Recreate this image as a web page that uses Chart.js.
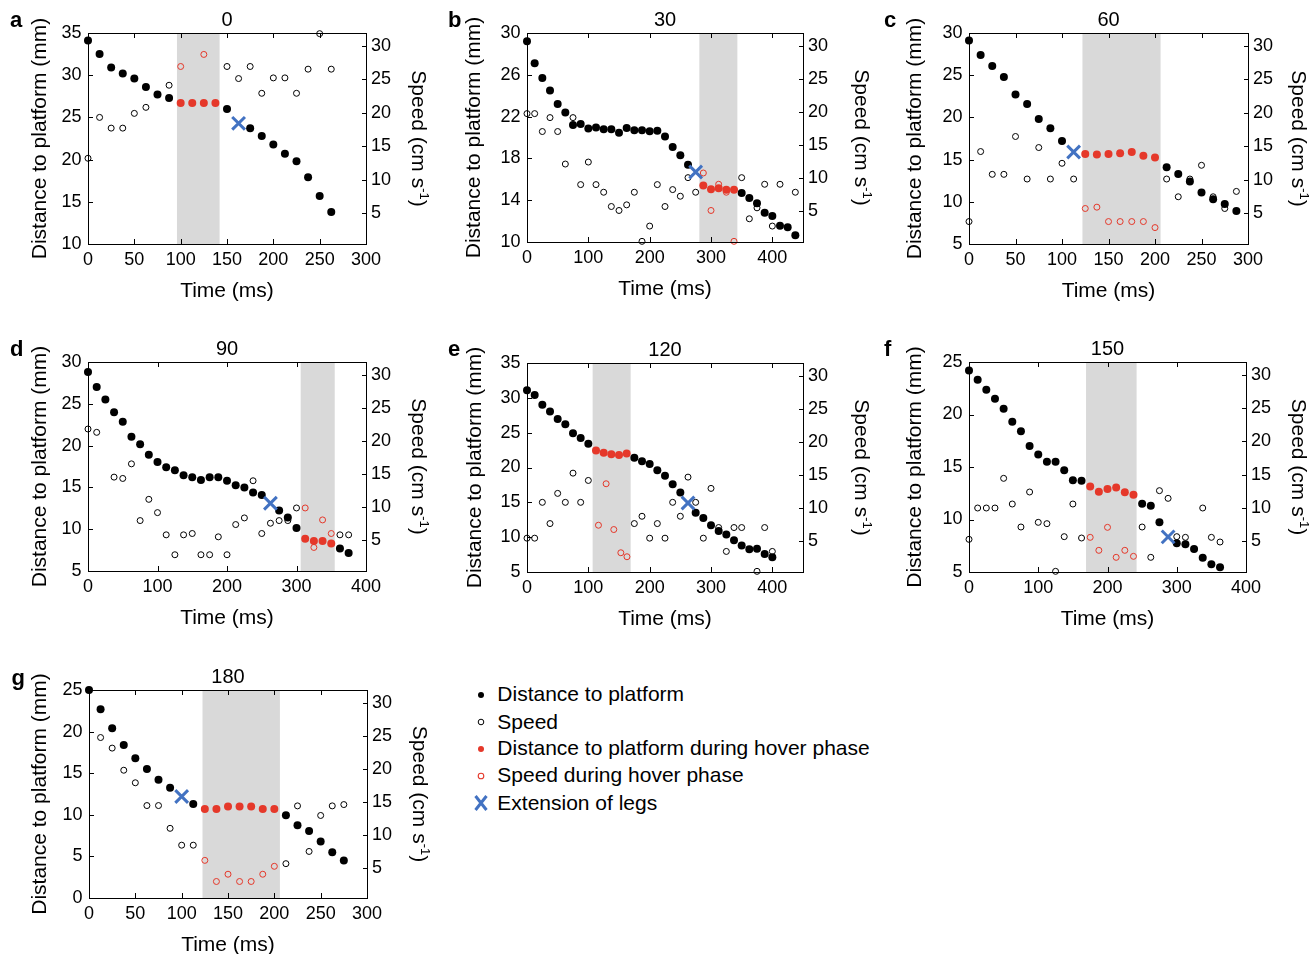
<!DOCTYPE html>
<html>
<head>
<meta charset="utf-8">
<title>Landing approach: distance and speed</title>
<script src="https://cdn.jsdelivr.net/npm/chart.js@4.4.1/dist/chart.umd.min.js"></script>
<style>
  html, body { margin: 0; padding: 0; background: #fff; }
  body { width: 1316px; height: 954px; position: relative; overflow: hidden;
         font-family: "Liberation Sans", Arial, Helvetica, sans-serif; }
  canvas.panel { position: absolute; }
  .lg-row { position: absolute; font-size: 21px; line-height: 24px; color: #000; white-space: nowrap; }
  .lg-mark { position: absolute; }
</style>
</head>
<body>
<script>
// ---------- shared axis values ----------
const speedTicks = [5, 10, 15, 20, 25, 30];
const speedRange = [0.4, 31.9];
const panelTitles = ['0', '30', '60', '90', '120', '150', '180'];
const panelLetters = ['a', 'b', 'c', 'd', 'e', 'f', 'g'];
const legendLabels = ['Distance to platform', 'Speed', 'Distance to platform during hover phase',
                      'Speed during hover phase', 'Extension of legs'];

// ---------- panel a (0) ----------
const timeTicksA = [0, 50, 100, 150, 200, 250, 300];
const distTicksA = [10, 15, 20, 25, 30, 35];
const distA = [[0,34.1],[12.5,32.5],[25,30.9],[37.5,30.2],[50,29.6],[62.5,28.6],[75,27.7],[87.5,27.3],
  [150,26.0],[175,23.7],[187.5,22.8],[200,21.8],[212.5,20.7],[225,19.8],[237.5,17.9],[250,15.7],[262.5,13.8]];
const hoverDistA = [[100,26.7],[112.5,26.7],[125,26.7],[137.5,26.7]];
const speedA = [[0,13.2],[12.5,19.3],[25,17.7],[37.5,17.7],[50,19.9],[62.5,20.8],[87.5,24.1],
  [150,26.9],[162.5,25.1],[175,26.9],[187.5,22.9],[200,25.2],[212.5,25.2],[225,22.9],[237.5,26.5],[250,31.8],[262.5,26.5]];
const hoverSpeedA = [[100,26.9],[125,28.7]];
const legsA = [[162.5,24.3]];
const hoverSpanA = [96, 142];

// ---------- panel b (30) ----------
const timeTicksB = [0, 100, 200, 300, 400];
const distTicksB = [10, 14, 18, 22, 26, 30];
const distB = [[0,29.2],[12.5,27.1],[25,25.7],[37.5,24.5],[50,23.2],[62.5,22.4],[75,21.2],[87.5,21.3],
  [100,20.85],[112.5,20.95],[125,20.8],[137.5,20.8],[150,20.45],[162.5,20.9],[175,20.7],[187.5,20.7],
  [200,20.6],[212.5,20.65],[225,20.1],[237.5,19.1],[250,18.3],[262.5,17.4],
  [350,14.7],[362.5,14.2],[375,13.7],[387.5,12.8],[400,12.5],[412.5,11.55],[425,11.4],[437.5,10.65]];
const hoverDistB = [[287.5,15.4],[300,15.05],[312.5,15.15],[325,15.0],[337.5,15.0]];
const speedB = [[0,19.75],[12.5,19.75],[25,17.05],[37.5,19.15],[50,17.05],[62.5,12.15],[75,19.15],[87.5,9.05],
  [100,12.45],[112.5,9.05],[125,7.9],[137.5,5.75],[150,5.15],[162.5,6.0],[175,7.9],[187.5,0.5],[200,2.8],
  [212.5,9.05],[225,5.75],[237.5,8.3],[250,7.3],[262.5,10.1],[275,7.9],
  [350,10.1],[362.5,3.9],[375,5.55],[387.5,9.1],[400,2.8],[412.5,9.1],[437.5,7.9]];
const hoverSpeedB = [[287.5,10.8],[300,5.15],[312.5,9.1],[325,7.9],[337.5,0.5]];
const legsB = [[275,16.7]];
const hoverSpanB = [281, 343];

// ---------- panel c (60) ----------
const timeTicksC = [0, 50, 100, 150, 200, 250, 300];
const distTicksC = [5, 10, 15, 20, 25, 30];
const distC = [[0,29.1],[12.5,27.4],[25,26.1],[37.5,24.8],[50,22.7],[62.5,21.6],[75,19.8],[87.5,18.7],[100,17.2],
  [212.5,14.1],[225,13.3],[237.5,12.4],[250,11.1],[262.5,10.3],[275,9.75],[287.5,8.9]];
const hoverDistC = [[125,15.65],[137.5,15.6],[150,15.65],[162.5,15.75],[175,15.9],[187.5,15.45],[200,15.25]];
const speedC = [[0,3.75],[12.5,14.2],[25,10.8],[37.5,10.8],[50,16.45],[62.5,10.1],[75,14.8],[87.5,10.1],
  [100,12.45],[112.5,10.1],[212.5,10.1],[225,7.45],[237.5,10.1],[250,12.15],[262.5,7.45],[275,5.7],[287.5,8.25]];
const hoverSpeedC = [[125,5.7],[137.5,5.9],[150,3.75],[162.5,3.75],[175,3.75],[187.5,3.75],[200,2.85]];
const legsC = [[112.5,15.9]];
const hoverSpanC = [122, 206];

// ---------- panel d (90) ----------
const timeTicksD = [0, 100, 200, 300, 400];
const distTicksD = [5, 10, 15, 20, 25, 30];
const distD = [[0,28.8],[12.5,27.0],[25,25.5],[37.5,24.0],[50,22.85],[62.5,21.05],[75,20.15],[87.5,18.9],
  [100,18.05],[112.5,17.4],[125,17.05],[137.5,16.45],[150,16.2],[162.5,15.9],[175,16.2],[187.5,16.2],
  [200,15.8],[212.5,15.25],[225,15.0],[237.5,14.4],[250,14.1],[275,12.25],[287.5,11.4],[300,10.15],
  [362.5,7.7],[375,7.15]];
const hoverDistD = [[312.5,8.85],[325,8.6],[337.5,8.6],[350,8.3]];
const speedD = [[0,21.8],[12.5,21.3],[37.5,14.55],[50,14.35],[62.5,16.55],[75,8.0],[87.5,11.2],[100,9.2],
  [112.5,5.85],[125,2.85],[137.5,5.85],[150,6.05],[162.5,2.85],[175,2.85],[187.5,5.55],[200,2.85],
  [212.5,7.4],[225,8.4],[237.5,14.0],[250,6.05],[262.5,7.6],[275,8.0],[287.5,8.0],[300,9.9],
  [362.5,5.85],[375,5.85]];
const hoverSpeedD = [[312.5,9.9],[325,3.95],[337.5,8.1],[350,6.05]];
const legsD = [[262.5,13.1]];
const hoverSpanD = [306, 355];

// ---------- panel e (120) ----------
const timeTicksE = [0, 100, 200, 300, 400];
const distTicksE = [5, 10, 15, 20, 25, 30, 35];
const distE = [[0,31.1],[12.5,30.4],[25,29.0],[37.5,28.05],[50,26.95],[62.5,26.2],[75,24.9],[87.5,24.25],[100,23.4],
  [175,21.4],[187.5,20.9],[200,20.5],[212.5,19.6],[225,18.8],[237.5,17.6],[250,16.4],[275,13.5],[287.5,12.75],
  [300,11.7],[312.5,10.9],[325,10.4],[337.5,9.55],[350,8.8],[362.5,8.25],[375,8.35],[387.5,7.6],[400,7.1]];
const hoverDistE = [[112.5,22.45],[125,22.1],[137.5,21.9],[150,21.8],[162.5,22.0]];
const speedE = [[0,5.5],[12.5,5.5],[25,10.9],[37.5,7.7],[50,12.25],[62.5,10.9],[75,15.3],[87.5,10.9],[100,14.2],
  [175,7.7],[187.5,8.8],[200,5.5],[212.5,7.7],[225,5.5],[237.5,10.9],[250,8.8],[262.5,14.7],[275,10.9],
  [287.5,5.5],[300,13.0],[312.5,7.1],[325,3.5],[337.5,7.1],[350,7.1],[375,0.5],[387.5,7.1],[400,3.5]];
const hoverSpeedE = [[116.5,7.45],[129,13.7],[141.5,6.8],[153,3.3],[163,2.7]];
const legsE = [[262.5,14.9]];
const hoverSpanE = [107, 169];

// ---------- panel f (150) ----------
const timeTicksF = [0, 100, 200, 300, 400];
const distTicksF = [5, 10, 15, 20, 25];
const distF = [[0,24.2],[12.5,23.3],[25,22.35],[37.5,21.5],[50,20.55],[62.5,19.3],[75,18.4],[87.5,17.0],
  [100,16.2],[112.5,15.5],[125,15.5],[137.5,14.7],[150,13.75],[162.5,13.7],
  [250,11.5],[262.5,11.3],[275,9.75],[300,7.75],[312.5,7.65],[325,7.2],[337.5,6.35],[350,5.75],[362.5,5.45]];
const hoverDistF = [[175,13.15],[187.5,12.65],[200,12.9],[212.5,13.05],[225,12.6],[237.5,12.35]];
const speedF = [[0,5.3],[12.5,10.0],[25,10.0],[37.5,10.0],[50,14.45],[62.5,10.6],[75,7.15],[87.5,12.4],
  [100,7.85],[112.5,7.65],[125,0.5],[137.5,5.7],[150,10.6],[162.5,5.5],
  [250,7.15],[262.5,2.6],[275,12.6],[287.5,11.45],[300,5.7],[312.5,5.6],[337.5,10.0],[350,5.6],[362.5,4.9]];
const hoverSpeedF = [[175,5.6],[187.5,3.65],[200,7.1],[212.5,2.6],[225,3.65],[237.5,2.75]];
const legsF = [[287.5,8.35]];
const hoverSpanF = [169, 242];

// ---------- panel g (180) ----------
const timeTicksG = [0, 50, 100, 150, 200, 250, 300];
const distTicksG = [0, 5, 10, 15, 20, 25];
const distG = [[0,25.0],[12.5,22.7],[25,20.4],[37.5,18.4],[50,16.8],[62.5,15.5],[75,14.2],[87.5,13.25],[112.5,11.3],
  [212.5,9.95],[225,8.75],[237.5,8.05],[250,6.8],[262.5,5.5],[275,4.5]];
const hoverDistG = [[125,10.7],[137.5,10.7],[150,11.0],[162.5,11.0],[175,11.0],[187.5,10.7],[200,10.7]];
const speedG = [[12.5,24.7],[25,23.1],[37.5,19.75],[50,17.85],[62.5,14.4],[75,14.4],[87.5,10.95],[100,8.4],[112.5,8.4],
  [212.5,5.6],[225,14.35],[237.5,7.45],[250,12.9],[262.5,14.35],[275,14.55]];
const hoverSpeedG = [[125,6.1],[137.5,2.9],[150,4.0],[162.5,2.9],[175,2.9],[187.5,4.0],[200,5.2]];
const legsG = [[100,12.2]];
const hoverSpanG = [122.5, 206];

// ---------- styling ----------
const FONT = '"Liberation Sans", Arial, Helvetica, sans-serif';
const BLACK = '#000000';
const RED = '#e5382a';
const BLUE = '#4272c2';
const SHADE = '#d9d9d9';
const NONE = 'rgba(0,0,0,0)';

// plot-area boxes [left, top, right, bottom] and label offsets
const layoutSpec = [
  { box: [88, 33, 366, 244],  xMax: 300, lt: 48,   rt: 52, letter: [10, 26.5] },
  { box: [527, 33, 803, 242], xMax: 450, lt: 52.5, rt: 58, letter: [448, 26.5] },
  { box: [969, 33, 1248, 244], xMax: 300, lt: 53.5, rt: 50, letter: [884, 26.5] },
  { box: [88, 362, 366, 571], xMax: 400, lt: 48,   rt: 52, letter: [10, 356] },
  { box: [527, 363, 803, 572], xMax: 450, lt: 52,  rt: 58, letter: [448, 356] },
  { box: [969, 362, 1246, 572], xMax: 400, lt: 53.5, rt: 52, letter: [884, 356] },
  { box: [89, 690, 367, 898], xMax: 300, lt: 49,   rt: 52, letter: [11.5, 685] }
];

const panelData = [
  { time: timeTicksA, distTicks: distTicksA, dist: distA, hDist: hoverDistA, speed: speedA, hSpeed: hoverSpeedA, legs: legsA, span: hoverSpanA },
  { time: timeTicksB, distTicks: distTicksB, dist: distB, hDist: hoverDistB, speed: speedB, hSpeed: hoverSpeedB, legs: legsB, span: hoverSpanB },
  { time: timeTicksC, distTicks: distTicksC, dist: distC, hDist: hoverDistC, speed: speedC, hSpeed: hoverSpeedC, legs: legsC, span: hoverSpanC },
  { time: timeTicksD, distTicks: distTicksD, dist: distD, hDist: hoverDistD, speed: speedD, hSpeed: hoverSpeedD, legs: legsD, span: hoverSpanD },
  { time: timeTicksE, distTicks: distTicksE, dist: distE, hDist: hoverDistE, speed: speedE, hSpeed: hoverSpeedE, legs: legsE, span: hoverSpanE },
  { time: timeTicksF, distTicks: distTicksF, dist: distF, hDist: hoverDistF, speed: speedF, hSpeed: hoverSpeedF, legs: legsF, span: hoverSpanF },
  { time: timeTicksG, distTicks: distTicksG, dist: distG, hDist: hoverDistG, speed: speedG, hSpeed: hoverSpeedG, legs: legsG, span: hoverSpanG }
];

const LP = 90, RP = 80, TP = 40, BP = 70;   // room around each plot area
const TICK = 5;                              // inward tick length

const toPoints = arr => arr.map(([x, y]) => ({ x, y }));

function makeDecor(i, spec, d, canvasLeft, canvasTop) {
  return {
    id: 'decor' + i,
    beforeDatasetsDraw(chart) {
      const { ctx, chartArea: a, scales } = chart;
      const x0 = scales.x.getPixelForValue(d.span[0]);
      const x1 = scales.x.getPixelForValue(d.span[1]);
      ctx.save();
      ctx.fillStyle = SHADE;
      ctx.fillRect(x0, a.top, x1 - x0, a.bottom - a.top);
      ctx.restore();
    },
    afterDatasetsDraw(chart) {
      const { ctx, chartArea: a, scales } = chart;
      ctx.save();
      ctx.strokeStyle = '#000';
      ctx.lineWidth = 1;
      // frame
      ctx.strokeRect(a.left + 0.5, a.top + 0.5, a.right - a.left, a.bottom - a.top);
      ctx.beginPath();
      // inward ticks: time on bottom and top edges
      scales.x.ticks.forEach(t => {
        const px = Math.round(scales.x.getPixelForValue(t.value)) + 0.5;
        ctx.moveTo(px, a.bottom); ctx.lineTo(px, a.bottom - TICK);
        ctx.moveTo(px, a.top); ctx.lineTo(px, a.top + TICK);
      });
      // distance ticks on the left edge
      scales.y.ticks.forEach(t => {
        const py = Math.round(scales.y.getPixelForValue(t.value)) + 0.5;
        ctx.moveTo(a.left, py); ctx.lineTo(a.left + TICK, py);
      });
      // speed ticks on the right edge
      scales.y2.ticks.forEach(t => {
        const py = Math.round(scales.y2.getPixelForValue(t.value)) + 0.5;
        ctx.moveTo(a.right + 1, py); ctx.lineTo(a.right + 1 - TICK, py);
      });
      ctx.stroke();
      ctx.restore();
    },
    afterDraw(chart) {
      const { ctx, chartArea: a } = chart;
      ctx.save();
      ctx.fillStyle = '#000';
      // panel heading (launch angle)
      ctx.font = '20px ' + FONT;
      ctx.textAlign = 'center';
      ctx.textBaseline = 'middle';
      ctx.fillText(panelTitles[i], (a.left + a.right) / 2, a.top - 12.5);
      // panel letter
      ctx.font = 'bold 22px ' + FONT;
      ctx.textAlign = 'left';
      ctx.textBaseline = 'alphabetic';
      ctx.fillText(panelLetters[i], spec.letter[0] - canvasLeft, spec.letter[1] - canvasTop);
      // right axis title with superscript exponent
      ctx.translate(a.right + spec.rt, (a.top + a.bottom) / 2);
      ctx.rotate(Math.PI / 2);
      ctx.textBaseline = 'middle';
      const big = '21px ' + FONT, small = '13px ' + FONT;
      const s1 = 'Speed (cm s', s2 = '-1', s3 = ')';
      ctx.font = big; const w1 = ctx.measureText(s1).width; const w3 = ctx.measureText(s3).width;
      ctx.font = small; const w2 = ctx.measureText(s2).width;
      let x = -(w1 + w2 + w3) / 2;
      ctx.font = big; ctx.fillText(s1, x, 0); x += w1;
      ctx.font = small; ctx.fillText(s2, x, -5.5); x += w2;
      ctx.font = big; ctx.fillText(s3, x, 0);
      ctx.restore();
    }
  };
}

layoutSpec.forEach((spec, i) => {
  const d = panelData[i];
  const [L, T, R, B] = spec.box;
  const w = R - L + LP + RP, h = B - T + TP + BP;
  const cv = document.createElement('canvas');
  cv.className = 'panel';
  cv.width = w; cv.height = h;
  cv.style.width = w + 'px'; cv.style.height = h + 'px';
  cv.style.left = (L - LP) + 'px'; cv.style.top = (T - TP) + 'px';
  document.body.appendChild(cv);

  const tickFont = { family: FONT, size: 18 };
  const titleFont = { family: FONT, size: 21, lineHeight: 1.2 };

  new Chart(cv, {
    type: 'scatter',
    data: {
      datasets: [
        { label: legendLabels[4], data: toPoints(d.legs), yAxisID: 'y', clip: false,
          pointStyle: 'crossRot', pointRadius: 9, pointBorderWidth: 3, pointBorderColor: BLUE, pointBackgroundColor: BLUE },
        { label: legendLabels[3], data: toPoints(d.hSpeed), yAxisID: 'y2', clip: false,
          pointRadius: 3, pointBorderWidth: 1, pointBorderColor: RED, pointBackgroundColor: NONE },
        { label: legendLabels[1], data: toPoints(d.speed), yAxisID: 'y2', clip: false,
          pointRadius: 3, pointBorderWidth: 1, pointBorderColor: BLACK, pointBackgroundColor: NONE },
        { label: legendLabels[2], data: toPoints(d.hDist), yAxisID: 'y', clip: false,
          pointRadius: 4, pointBorderWidth: 0, pointBackgroundColor: RED },
        { label: legendLabels[0], data: toPoints(d.dist), yAxisID: 'y', clip: false,
          pointRadius: 4, pointBorderWidth: 0, pointBackgroundColor: BLACK }
      ]
    },
    options: {
      responsive: false,
      animation: false,
      devicePixelRatio: 1,
      events: [],
      layout: { padding: { top: TP, left: 0, right: 0, bottom: 0 } },
      plugins: { legend: { display: false }, tooltip: { enabled: false }, title: { display: false } },
      scales: {
        x: {
          type: 'linear', position: 'bottom', min: 0, max: spec.xMax,
          afterBuildTicks: s => { s.ticks = d.time.map(v => ({ value: v })); },
          afterFit: s => { s.height = BP; },
          grid: { display: false, drawTicks: false }, border: { display: false },
          ticks: { font: tickFont, color: '#000', padding: 5.5, maxRotation: 0, autoSkip: false },
          title: { display: true, text: 'Time (ms)', color: '#000', font: titleFont, padding: { top: 0, bottom: 10.4 } }
        },
        y: {
          type: 'linear', position: 'left',
          min: d.distTicks[0], max: d.distTicks[d.distTicks.length - 1],
          afterBuildTicks: s => { s.ticks = d.distTicks.map(v => ({ value: v })); },
          afterFit: s => { s.width = LP; },
          grid: { display: false, drawTicks: false }, border: { display: false },
          ticks: { font: tickFont, color: '#000', padding: 6.5, autoSkip: false },
          title: { display: true, text: 'Distance to platform (mm)', color: '#000', font: titleFont,
                   padding: { top: LP - spec.lt - 12.6, bottom: 0 } }
        },
        y2: {
          type: 'linear', position: 'right', min: speedRange[0], max: speedRange[1],
          afterBuildTicks: s => { s.ticks = speedTicks.map(v => ({ value: v })); },
          afterFit: s => { s.width = RP; },
          grid: { display: false, drawTicks: false }, border: { display: false },
          ticks: { font: tickFont, color: '#000', padding: 5, autoSkip: false },
          title: { display: false }
        }
      }
    },
    plugins: [makeDecor(i, spec, d, L - LP, T - TP)]
  });
});

// ---------- legend ----------
const legendRowsY = [695, 722.3, 749, 776, 803.3];
const legendMarkX = 480.7, legendTextX = 497.3;
const legendMarks = [
  '<circle cx="10" cy="10" r="3" fill="' + BLACK + '"/>',
  '<circle cx="10" cy="10" r="2.8" fill="none" stroke="' + BLACK + '" stroke-width="1"/>',
  '<circle cx="10" cy="10" r="3" fill="' + RED + '"/>',
  '<circle cx="10" cy="10" r="2.8" fill="none" stroke="' + RED + '" stroke-width="1.1"/>',
  '<path d="M4.5 3 L15.5 17 M15.5 3 L4.5 17" stroke="' + BLUE + '" stroke-width="3"/>'
];
legendLabels.forEach((label, k) => {
  const yc = legendRowsY[k];
  const mark = document.createElementNS('http://www.w3.org/2000/svg', 'svg');
  mark.setAttribute('width', '20'); mark.setAttribute('height', '20');
  mark.setAttribute('class', 'lg-mark');
  mark.style.left = (legendMarkX - 10) + 'px';
  mark.style.top = (yc - 10) + 'px';
  mark.innerHTML = legendMarks[k];
  document.body.appendChild(mark);
  const row = document.createElement('div');
  row.className = 'lg-row';
  row.style.left = legendTextX + 'px';
  row.style.top = (yc - 12.6) + 'px';
  row.textContent = label;
  document.body.appendChild(row);
});
</script>
</body>
</html>
